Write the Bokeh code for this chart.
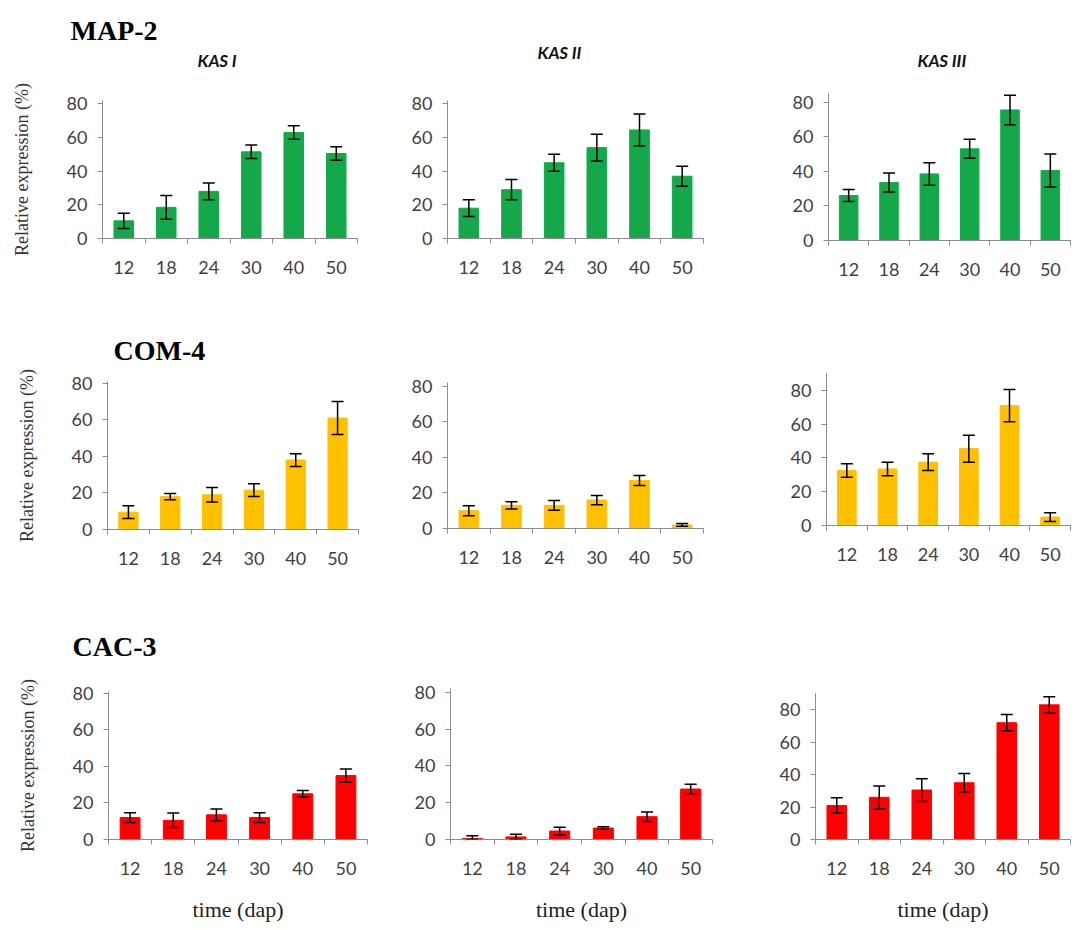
from bokeh.plotting import figure
from bokeh.models import ColumnDataSource, Whisker, TeeHead, FixedTicker, Title, Range1d
from bokeh.layouts import column, row
from bokeh.embed import file_html
from bokeh.resources import INLINE

days = ["12", "18", "24", "30", "40", "50"]
enzymes = ["KAS I", "KAS II", "KAS III"]
genes = ["MAP-2", "COM-4", "CAC-3"]

map2_kas1 = [10.5, 18.5, 28, 51.5, 63, 50.5]
map2_kas1_err = [4.5, 7, 5, 4, 4, 4]
map2_kas2 = [18, 29, 45, 54, 64.5, 37]
map2_kas2_err = [5, 6, 5, 8, 9.5, 6]
map2_kas3 = [26, 33.5, 38.5, 53, 75.5, 40.5]
map2_kas3_err = [3.5, 5.5, 6.5, 5.5, 8.5, 9.5]

com4_kas1 = [9.5, 18, 19, 21.5, 38, 61]
com4_kas1_err = [3.5, 1.7, 4, 3.5, 3.5, 9]
com4_kas2 = [10, 13, 13, 16, 27, 2]
com4_kas2_err = [2.8, 2, 2.7, 2.6, 2.8, 0.8]
com4_kas3 = [32.5, 33.5, 37.5, 45.5, 71, 5]
com4_kas3_err = [4, 4, 5, 8, 9.5, 2.6]

cac3_kas1 = [12, 10.5, 13.5, 12, 25, 35]
cac3_kas1_err = [2.7, 4, 3.2, 2.7, 1.8, 3.6]
cac3_kas2 = [0.5, 1.4, 4.6, 6.2, 12.4, 27.4]
cac3_kas2_err = [1.6, 1.4, 2.1, 0.7, 2.6, 2.6]
cac3_kas3 = [21, 26, 30.5, 35, 72, 83]
cac3_kas3_err = [4.7, 7, 7, 5.7, 5, 5]

GREEN = "#14A84B"
GOLD = "#FFC000"
RED = "#FF0000"
AXIS_GRAY = "#8C8C8C"
TEXT_GRAY = "#3F3F3F"


def panel(vals, errs, color, ymax, width, height, bl, br, bt, bb,
          sub=None, sub_off=0, sub_stand=10,
          head=None, head_off=0, head_stand=10,
          ylabel=False, xlabel=False):
    idx = list(range(len(days)))
    src = ColumnDataSource(dict(
        x=idx, top=vals,
        upper=[v + e for v, e in zip(vals, errs)],
        lower=[max(v - e, 0) for v, e in zip(vals, errs)],
    ))
    p = figure(width=width, height=height, output_backend="svg", toolbar_location=None,
               x_range=Range1d(-0.5, len(days) - 0.5), y_range=Range1d(0, ymax),
               min_border_left=bl, min_border_right=br, min_border_top=bt, min_border_bottom=bb,
               background_fill_color="white", border_fill_color="white")
    p.outline_line_color = None
    p.grid.visible = False
    p.vbar(x="x", top="top", width=0.46, source=src, fill_color=color, line_color=color)
    w = Whisker(source=src, base="x", upper="upper", lower="lower",
                line_color="black", line_width=1.5, level="annotation",
                upper_head=TeeHead(size=12, line_color="black", line_width=1.5),
                lower_head=TeeHead(size=12, line_color="black", line_width=1.5))
    p.add_layout(w)

    xa = p.xaxis[0]
    xa.ticker = FixedTicker(ticks=idx, minor_ticks=[i - 0.5 for i in range(len(days) + 1)])
    xa.major_label_overrides = {i: d for i, d in enumerate(days)}
    xa.major_tick_line_color = None
    xa.major_tick_out = 5
    xa.major_tick_in = 0
    xa.minor_tick_line_color = AXIS_GRAY
    xa.minor_tick_out = 5
    xa.minor_tick_in = 0
    xa.axis_line_color = AXIS_GRAY
    xa.major_label_text_font = "Lato"
    xa.major_label_text_font_size = "18px"
    xa.major_label_text_color = TEXT_GRAY
    xa.major_label_standoff = 17

    ya = p.yaxis[0]
    ya.ticker = FixedTicker(ticks=[0, 20, 40, 60, 80])
    ya.major_tick_line_color = AXIS_GRAY
    ya.major_tick_out = 5
    ya.major_tick_in = 0
    ya.minor_tick_line_color = None
    ya.axis_line_color = AXIS_GRAY
    ya.major_label_text_font = "Lato"
    ya.major_label_text_font_size = "18px"
    ya.major_label_text_color = TEXT_GRAY
    ya.major_label_standoff = 10

    if ylabel:
        ya.axis_label = "Relative expression (%)"
        ya.axis_label_text_font = "Liberation Serif"
        ya.axis_label_text_font_style = "normal"
        ya.axis_label_text_font_size = "18px"
        ya.axis_label_text_color = "#333333"
        ya.axis_label_standoff = 32
    if xlabel:
        xa.axis_label = "time (dap)"
        xa.axis_label_text_font = "Liberation Serif"
        xa.axis_label_text_font_style = "normal"
        xa.axis_label_text_font_size = "22px"
        xa.axis_label_text_color = "#222222"
        xa.axis_label_standoff = 19

    if sub is not None:
        p.add_layout(Title(text=sub, text_font="Lato", text_font_style="bold italic",
                           text_font_size="17px", text_color="#111111",
                           align="left", offset=sub_off, standoff=sub_stand), "above")
    if head is not None:
        p.add_layout(Title(text=head, text_font="Liberation Serif", text_font_style="bold",
                           text_font_size="28px", text_color="black",
                           align="left", offset=head_off, standoff=head_stand), "above")
    return p


# column widths / row heights of the grid cells
W1, W2, W3 = 370, 350, 352
H1, H2, H3 = 298, 300, 326

p1 = panel(map2_kas1, map2_kas1_err, GREEN, 82, W1, H1, 102, 13, 100, 60,
           sub=enzymes[0], sub_off=95, sub_stand=60,
           head=genes[0], head_off=-32, head_stand=-56, ylabel=True)
p2 = panel(map2_kas2, map2_kas2_err, GREEN, 82, W2, H1, 77, 17, 100, 60,
           sub=enzymes[1], sub_off=90, sub_stand=76)
p3 = panel(map2_kas3, map2_kas3_err, GREEN, 85, W3, H1, 108, 2, 93, 58,
           sub=enzymes[2], sub_off=89, sub_stand=46)

p4 = panel(com4_kas1, com4_kas1_err, GOLD, 81, W1, H2, 107, 12, 83, 69,
           head=genes[1], head_off=6, head_stand=32, ylabel=True)
p5 = panel(com4_kas2, com4_kas2_err, GOLD, 82, W2, H2, 77, 17, 84, 70)
p6 = panel(com4_kas3, com4_kas3_err, GOLD, 90, W3, H2, 106, 2, 75, 73)

p7 = panel(cac3_kas1, cac3_kas1_err, RED, 81, W1, H3, 108, 3, 92, 84,
           head=genes[2], head_off=-36, head_stand=60, ylabel=True, xlabel=True)
p8 = panel(cac3_kas2, cac3_kas2_err, RED, 82, W2, H3, 80, 8, 90, 81, xlabel=True)
p9 = panel(cac3_kas3, cac3_kas3_err, RED, 90, W3, H3, 95, 2, 95, 82, xlabel=True)

layout = column(
    row(column(p1), column(p2), column(p3)),
    row(column(p4), column(p5), column(p6)),
    row(column(p7), column(p8), column(p9)),
)

open("out.html", "w").write(file_html(layout, INLINE))
